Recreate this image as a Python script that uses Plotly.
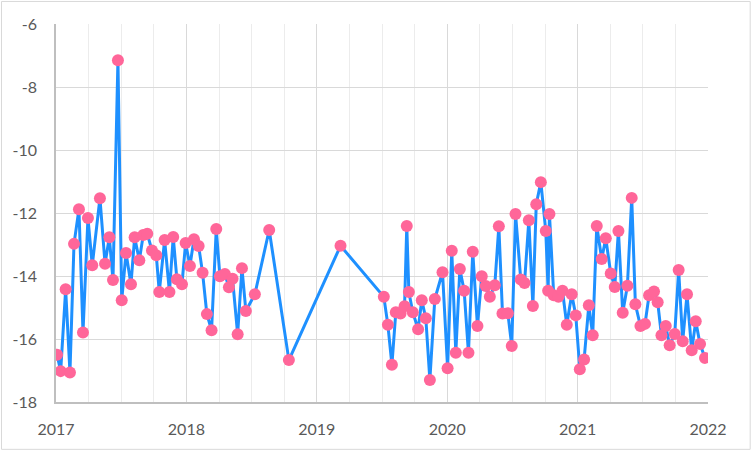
import plotly.graph_objects as go

# decimal-year positions of each observation
years = [
    2017.008, 2017.036, 2017.074, 2017.107, 2017.138, 2017.176, 2017.207, 2017.245, 2017.278, 2017.337,
    2017.376, 2017.409, 2017.437, 2017.475, 2017.504, 2017.537, 2017.575, 2017.603, 2017.639, 2017.669,
    2017.700, 2017.736, 2017.769, 2017.792, 2017.833, 2017.870, 2017.899, 2017.927, 2017.966, 2017.994,
    2018.027, 2018.058, 2018.094, 2018.124, 2018.157, 2018.193, 2018.229, 2018.257, 2018.295, 2018.326,
    2018.354, 2018.393, 2018.426, 2018.456, 2018.525, 2018.635, 2018.786, 2019.182, 2019.514, 2019.545,
    2019.576, 2019.606, 2019.642, 2019.673, 2019.690, 2019.706, 2019.736, 2019.777, 2019.805, 2019.836,
    2019.867, 2019.905, 2019.964, 2020.003, 2020.035, 2020.066, 2020.097, 2020.130, 2020.163, 2020.196,
    2020.232, 2020.265, 2020.296, 2020.327, 2020.365, 2020.396, 2020.424, 2020.465, 2020.495, 2020.524,
    2020.564, 2020.593, 2020.626, 2020.657, 2020.683, 2020.718, 2020.756, 2020.774, 2020.784, 2020.817,
    2020.853, 2020.884, 2020.917, 2020.955, 2020.986, 2021.017, 2021.050, 2021.086, 2021.116, 2021.147,
    2021.185, 2021.216, 2021.254, 2021.285, 2021.313, 2021.346, 2021.382, 2021.415, 2021.443, 2021.482,
    2021.517, 2021.548, 2021.586, 2021.614, 2021.643, 2021.676, 2021.706, 2021.745, 2021.775, 2021.806,
    2021.839, 2021.875, 2021.906, 2021.939, 2021.977,
]

values = [
    -16.50, -17.02, -14.42, -17.06, -12.98, -11.88, -15.79, -12.16, -13.66, -11.53,
    -13.61, -12.77, -14.13, -7.15, -14.77, -13.27, -14.26, -12.77, -13.50, -12.70,
    -12.66, -13.19, -13.34, -14.51, -12.86, -14.51, -12.76, -14.10, -14.26, -12.95,
    -13.68, -12.83, -13.05, -13.90, -15.21, -15.72, -12.51, -14.01, -13.94, -14.36,
    -14.09, -15.85, -13.75, -15.11, -14.58, -12.54, -16.67, -13.04, -14.66, -15.55,
    -16.82, -15.15, -15.19, -14.96, -12.41, -14.51, -15.15, -15.69, -14.77, -15.34,
    -17.30, -14.73, -13.88, -16.93, -13.20, -16.44, -13.78, -14.47, -16.44, -13.23,
    -15.59, -14.01, -14.32, -14.66, -14.29, -12.42, -15.19, -15.18, -16.22, -12.03,
    -14.11, -14.22, -12.23, -14.95, -11.72, -11.02, -12.57, -14.47, -12.03, -14.61,
    -14.66, -14.47, -15.55, -14.58, -15.25, -16.96, -16.65, -14.93, -15.88, -12.41,
    -13.46, -12.80, -13.92, -14.35, -12.57, -15.17, -14.31, -11.52, -14.90, -15.59,
    -15.52, -14.61, -14.49, -14.83, -15.88, -15.59, -16.20, -15.84, -13.81, -16.07,
    -14.58, -16.36, -15.44, -16.16, -16.60,
]

x_ticks = [2017, 2018, 2019, 2020, 2021, 2022]
x_labels = ["2017", "2018", "2019", "2020", "2021", "2022"]
y_ticks = [-18, -16, -14, -12, -10, -8, -6]
y_labels = ["-18", "-16", "-14", "-12", "-10", "-8", "-6"]

fig = go.Figure()
fig.add_trace(go.Scatter(
    x=years, y=values, mode="lines+markers",
    line=dict(color="#1e90ff", width=3),
    marker=dict(color="#ff6699", size=12, line=dict(width=0)),
    showlegend=False, hoverinfo="x+y",
))

font = dict(family="Lato, 'Liberation Sans', sans-serif", size=16, color="#595959")

fig.update_layout(
    width=752, height=452,
    margin=dict(l=56, r=43.7, t=24, b=50.3),
    paper_bgcolor="white", plot_bgcolor="white",
    font=font,
    xaxis=dict(
        range=[2017, 2022], tickvals=x_ticks, ticktext=x_labels,
        showgrid=True, gridcolor="#d9d9d9", gridwidth=1,
        minor=dict(dtick=0.25, tick0=2017, showgrid=True, gridcolor="#ececec", gridwidth=1),
        showline=True, linecolor="#bfbfbf", linewidth=1.5,
        zeroline=False, ticks="", ticklabelstandoff=12, tickfont=font,
    ),
    yaxis=dict(
        range=[-18, -6], tickvals=y_ticks, ticktext=y_labels,
        showgrid=True, gridcolor="#d9d9d9", gridwidth=1,
        showline=True, linecolor="#bfbfbf", linewidth=1.5,
        zeroline=False, ticks="", ticklabelstandoff=14, tickfont=font,
    ),
    shapes=[dict(
        type="rect", xref="paper", yref="paper",
        x0=(1.5 - 56) / 652.3, x1=(750.5 - 56) / 652.3,
        y0=(401.7 - 449) / 377.7, y1=(401.7 - 1.5) / 377.7,
        line=dict(color="#d9d9d9", width=1), fillcolor="rgba(0,0,0,0)",
        layer="below",
    )],
)

fig.write_html(
    "out.html",
    config={"displayModeBar": False},
    post_script="document.body.style.margin='0px';document.body.style.overflow='hidden';",
)
